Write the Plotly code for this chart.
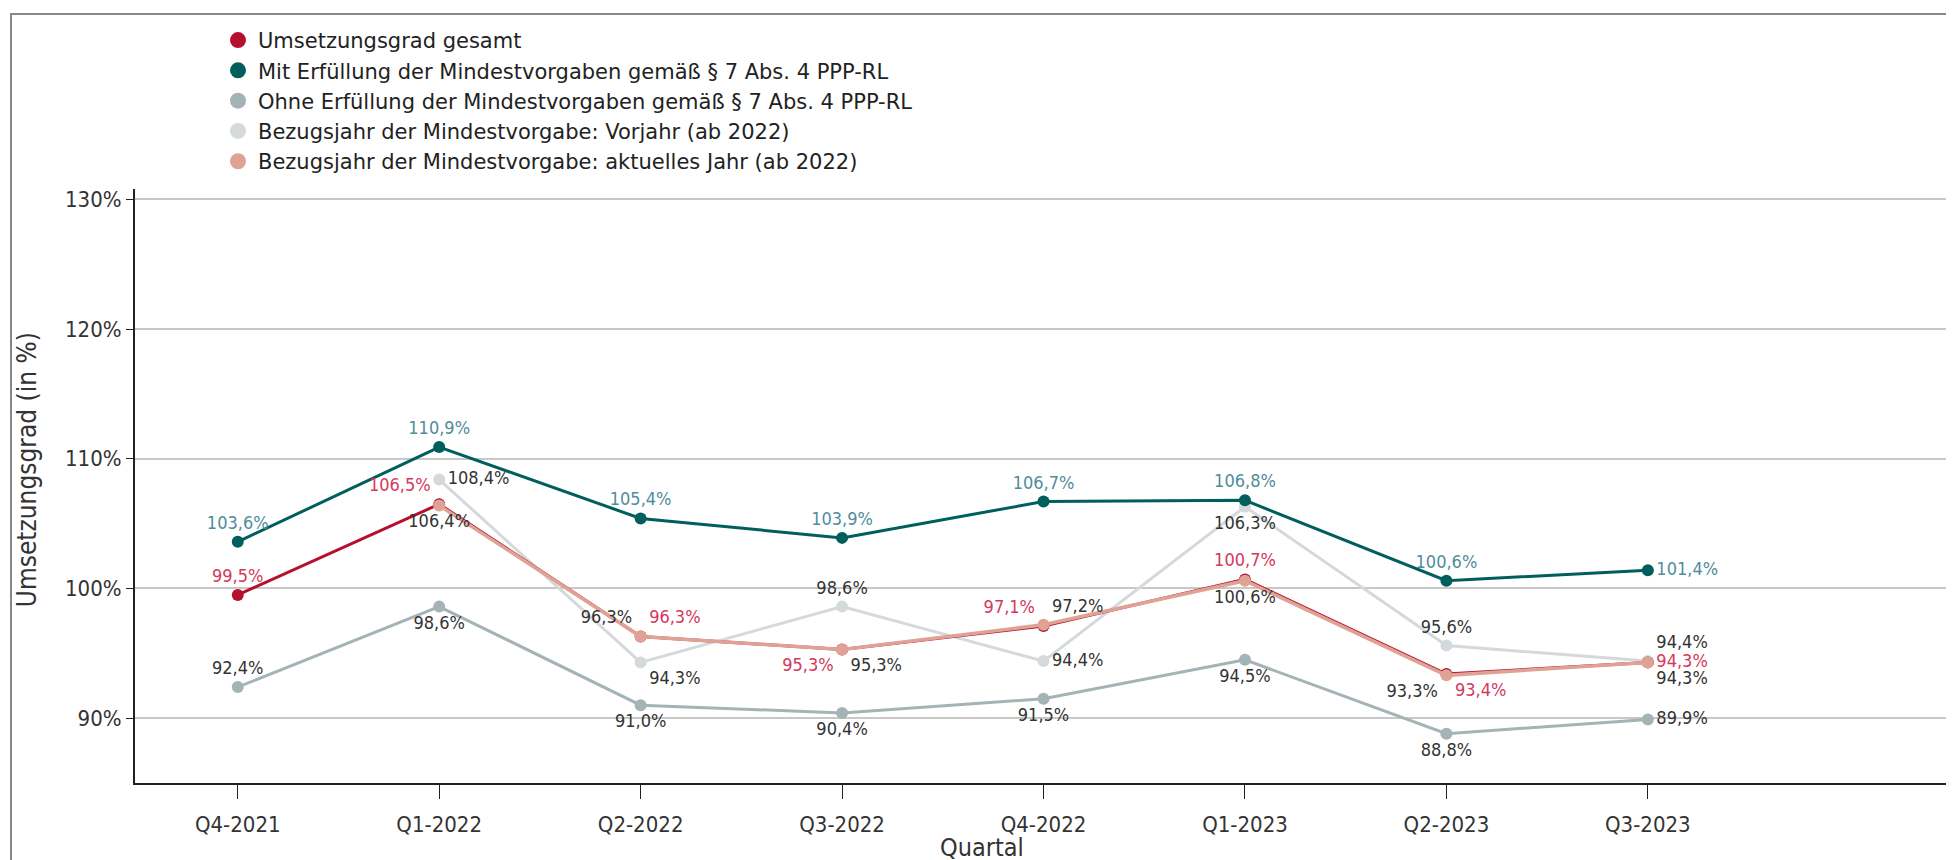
import plotly.graph_objects as go

quarters = ["Q4-2021", "Q1-2022", "Q2-2022", "Q3-2022", "Q4-2022", "Q1-2023", "Q2-2023", "Q3-2023"]
gesamt = [99.5, 106.5, 96.3, 95.3, 97.1, 100.7, 93.4, 94.3]
mit = [103.6, 110.9, 105.4, 103.9, 106.7, 106.8, 100.6, 101.4]
ohne = [92.4, 98.6, 91.0, 90.4, 91.5, 94.5, 88.8, 89.9]
vorjahr = [None, 108.4, 94.3, 98.6, 94.4, 106.3, 95.6, 94.4]
aktuell = [None, 106.4, 96.3, 95.3, 97.2, 100.6, 93.3, 94.3]

names = [
    "Umsetzungsgrad gesamt",
    "Mit Erfüllung der Mindestvorgaben gemäß § 7 Abs. 4 PPP-RL",
    "Ohne Erfüllung der Mindestvorgaben gemäß § 7 Abs. 4 PPP-RL",
    "Bezugsjahr der Mindestvorgabe: Vorjahr (ab 2022)",
    "Bezugsjahr der Mindestvorgabe: aktuelles Jahr (ab 2022)",
]
colors = ["#b5102d", "#005f5d", "#a4b3b6", "#d4d9db", "#dfa295"]
label_colors = ["#d4385c", "#4f8c9c", "#333333", "#333333", "#333333"]

FONT = "DejaVu Sans Condensed, Liberation Sans Narrow, Roboto, sans-serif"
FONT_WIDE = "DejaVu Sans, Roboto, sans-serif"

def fmt(vals):
    return ["" if v is None else f"{v:.1f}%".replace(".", ",") for v in vals]

pos_gesamt = ["top center", "top left", "top right", "bottom left", "top left", "top center", "bottom right", "middle right"]
pos_mit = ["top center"] * 7 + ["middle right"]
pos_ohne = ["top center"] + ["bottom center"] * 6 + ["middle right"]
pos_vorjahr = ["top center", "middle right", "bottom right", "top center", "middle right", "bottom center", "top center", "top right"]
pos_aktuell = ["top center", "bottom center", "top left", "bottom right", "top right", "bottom center", "bottom left", "bottom right"]

series = [
    (ohne, 2, pos_ohne, 3),
    (vorjahr, 3, pos_vorjahr, 3),
    (mit, 1, pos_mit, 3),
    (gesamt, 0, pos_gesamt, 3),
    (aktuell, 4, pos_aktuell, 3.5),
]

fig = go.Figure()
for vals, idx, pos, w in series:
    fig.add_trace(go.Scatter(
        x=quarters, y=vals, name=names[idx], mode="lines+markers+text",
        line=dict(color=colors[idx], width=w),
        marker=dict(color=colors[idx], size=12),
        text=fmt(vals), textposition=pos,
        textfont=dict(family=FONT, size=18, color=label_colors[idx]),
        cliponaxis=False, showlegend=False,
    ))

# legend entries (circles only)
for idx, name in enumerate(names):
    fig.add_trace(go.Scatter(
        x=[None], y=[None], name=name, mode="markers",
        marker=dict(color=colors[idx], size=16), showlegend=True,
    ))

PLOT_TOP, PLOT_BOT, PLOT_L, PLOT_R = 181, 774.6, 127, 1938
PH = PLOT_BOT - PLOT_TOP
PW = PLOT_R - PLOT_L

fig.update_layout(
    width=1954, height=860,
    margin=dict(l=PLOT_L, r=1954 - PLOT_R, t=PLOT_TOP, b=860 - PLOT_BOT),
    paper_bgcolor="white", plot_bgcolor="white",
    font=dict(family=FONT, size=22, color="#333333"),
    showlegend=True,
    legend=dict(x=(210 - PLOT_L) / PW, y=(PLOT_BOT - 12) / PH, xanchor="left", yanchor="top",
                font=dict(family=FONT_WIDE, size=21, color="#222222"),
                tracegroupgap=0, bgcolor="rgba(0,0,0,0)"),
    xaxis=dict(range=[-0.51, 8.48], showgrid=False, showline=True, linecolor="#222222",
               linewidth=2, ticks="outside", ticklen=14, tickcolor="#222222",
               ticklabelstandoff=7,
               tickfont=dict(size=22, color="#333333")),
    yaxis=dict(range=[85, 130.8], tickvals=[90, 100, 110, 120, 130],
               ticktext=["90%", "100%", "110%", "120%", "130%"],
               showgrid=True, gridcolor="#c8c8c8", gridwidth=1.5,
               showline=True, linecolor="#222222", linewidth=2,
               ticks="outside", ticklen=7, tickcolor="#222222",
               tickfont=dict(size=22, color="#333333"), zeroline=False),
    annotations=[
        dict(text="Quartal", xref="paper", yref="paper",
             x=(974 - PLOT_L) / PW, y=(PLOT_BOT - 839) / PH,
             xanchor="center", yanchor="middle", showarrow=False,
             font=dict(size=25, color="#333333")),
        dict(text="Umsetzungsgrad (in %)", xref="paper", yref="paper",
             x=(19 - PLOT_L) / PW, y=(PLOT_BOT - 462) / PH, textangle=-90,
             xanchor="center", yanchor="middle", showarrow=False,
             font=dict(size=26, color="#333333")),
    ],
)

fig.add_shape(type="rect", xref="paper", yref="paper",
              x0=(3 - PLOT_L) / PW, x1=(1942 - PLOT_L) / PW,
              y0=-0.3, y1=(PLOT_BOT - 6) / PH,
              line=dict(color="#888888", width=2), fillcolor="rgba(0,0,0,0)", layer="below")

fig.write_html("out.html")
